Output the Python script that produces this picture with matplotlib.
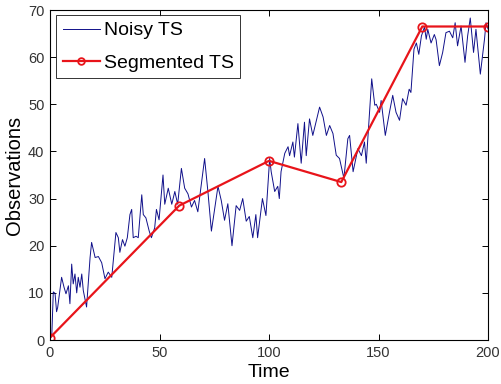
import numpy as np
import matplotlib
matplotlib.use("Agg")
import matplotlib.pyplot as plt

# noisy series (time, value)
noisy_t = [0, 0.8, 1.5, 2.3, 3, 3.5, 5.3, 6.4, 7.3, 8.4, 9.1, 9.9, 10.6, 11.4,
           12.2, 12.9, 13.7, 14.5, 15.2, 16.7, 18.3, 19, 20.6, 22.1, 23.6, 25.1,
           26.6, 28.2, 30.1, 31.2, 31.9, 33.1, 34.2, 35.3, 36.5, 37.3, 38, 39.3,
           40.3, 41.9, 42.6, 43.8, 45.3, 46.3, 47.8, 48.6, 49.8, 51.6, 52.4, 54,
           55.6, 57, 58.3, 60, 61.5, 63, 64.6, 66, 67.5, 70.6, 72.1, 73.7, 76.7,
           78.2, 79.7, 81.2, 83.1, 85, 86.6, 88, 89.6, 91, 92.6, 94, 94.8, 97,
           98.6, 100.3, 101, 102.6, 104, 104.7, 105.5, 107.2, 108.7, 109.4, 110.9,
           111.6, 113.2, 114.7, 116.2, 117, 118.5, 120, 123.1, 124.7, 126.2, 127.7,
           129.2, 130.7, 132.2, 134.2, 136, 136.8, 138.4, 140.6, 142.2, 143.6,
           144.4, 146.9, 148.3, 149, 150.5, 151.2, 153.1, 155, 156.5, 158, 159.6,
           161, 162.6, 164, 164.8, 166.2, 167.3, 168.4, 169.6, 171, 171.8, 172.5,
           174, 175.5, 176.3, 177.8, 179.3, 180.8, 182.4, 183.9, 185, 186.1, 187.7,
           189.5, 190.7, 191.9, 193.4, 194.5, 196.5, 198.4, 199.1, 200]
noisy_v = [0.5, 0.7, 10.2, 9.9, 6.0, 6.9, 13.3, 11.2, 9.8, 11.5, 7.7, 16.1, 11.9, 14.0,
           10.0, 13.3, 11.2, 14.0, 10.5, 7.0, 17.5, 20.7, 17.5, 17.7, 16.4, 13.0,
           14.4, 13.3, 22.8, 21.7, 18.6, 21.3, 19.9, 21.7, 26.6, 27.7, 21.7, 22.0,
           21.7, 30.8, 26.6, 25.9, 23.1, 21.7, 23.8, 27.7, 25.5, 35.0, 28.8, 32.2,
           28.8, 31.5, 28.8, 36.4, 32.2, 31.0, 28.2, 29.6, 27.2, 38.5, 31.5, 23.1, 32.6,
           29.6, 25.4, 28.9, 20.0, 28.5, 27.5, 30.0, 25.2, 26.2, 21.7, 26.6, 21.7, 30.0,
           26.4, 38.5, 35.7, 31.5, 32.6, 30.0, 35.7, 39.6, 41.0, 39.1, 42.0,
           38.8, 45.9, 37.5, 46.2, 39.1, 46.9, 43.4, 49.4, 47.3, 43.4, 45.5,
           43.8, 39.2, 38.5, 34.3, 42.7, 43.4, 35.7, 40.6, 39.1, 42.0,
           37.5, 55.4, 49.8, 50.0, 48.3, 50.8, 43.4, 48.3, 51.9, 48.3, 46.6,
           51.2, 49.8, 53.2, 52.5, 61.7, 63.0, 60.6, 64.5, 66.4, 63.8, 65.9,
           63.0, 64.8, 63.7, 58.2, 61.0, 65.2, 65.5, 64.1, 67.3, 62.4, 66.6,
           58.9, 64.5, 68.3, 61.0, 65.9, 56.4, 63.8, 67.3, 66.0]

# segmented series
seg_t = [0, 59, 100, 133, 170, 200]
seg_v = [0.5, 28.5, 38, 33.5, 66.5, 66.5]

plt.rcParams['font.family'] = ['Liberation Sans', 'DejaVu Sans']

W, H = 501, 384
fig = plt.figure(figsize=(W / 100, H / 100), dpi=100)
# axes box in pixels: left 50, right 488, top 10, bottom 340
ax = fig.add_axes([50 / W, (H - 340) / H, 438 / W, 330 / H])

ax.plot(noisy_t, noisy_v, color='#10108a', linewidth=0.7, label='Noisy TS')
ax.plot(seg_t, seg_v, color='#e8141a', linewidth=1.6, marker='o',
        markersize=6, markerfacecolor='none', markeredgecolor='#e8141a',
        markeredgewidth=1.3, label='Segmented TS')

ax.set_xlim(0, 200)
ax.set_ylim(0, 70)
ax.set_xticks([0, 50, 100, 150, 200])
ax.set_yticks(range(0, 71, 10))
ax.tick_params(direction='in', top=True, right=True, length=4, labelsize=10.5,
               width=0.7, pad=4, labelcolor='#333333')
for s in ax.spines.values():
    s.set_linewidth(0.8)

ax.set_xlabel('Time', fontsize=14, labelpad=3)
ax.set_ylabel('Observations', fontsize=14.5, labelpad=3)

leg = ax.legend(loc='upper left', bbox_to_anchor=(6 / 438, 1 - 5 / 330),
                fontsize=14, frameon=True, fancybox=False, edgecolor='black',
                borderaxespad=0, handlelength=1.9, borderpad=0.35,
                labelspacing=0.75, handletextpad=0.2, markerscale=0.8)
leg.get_frame().set_linewidth(0.7)

fig.savefig('out.png', dpi=100)
